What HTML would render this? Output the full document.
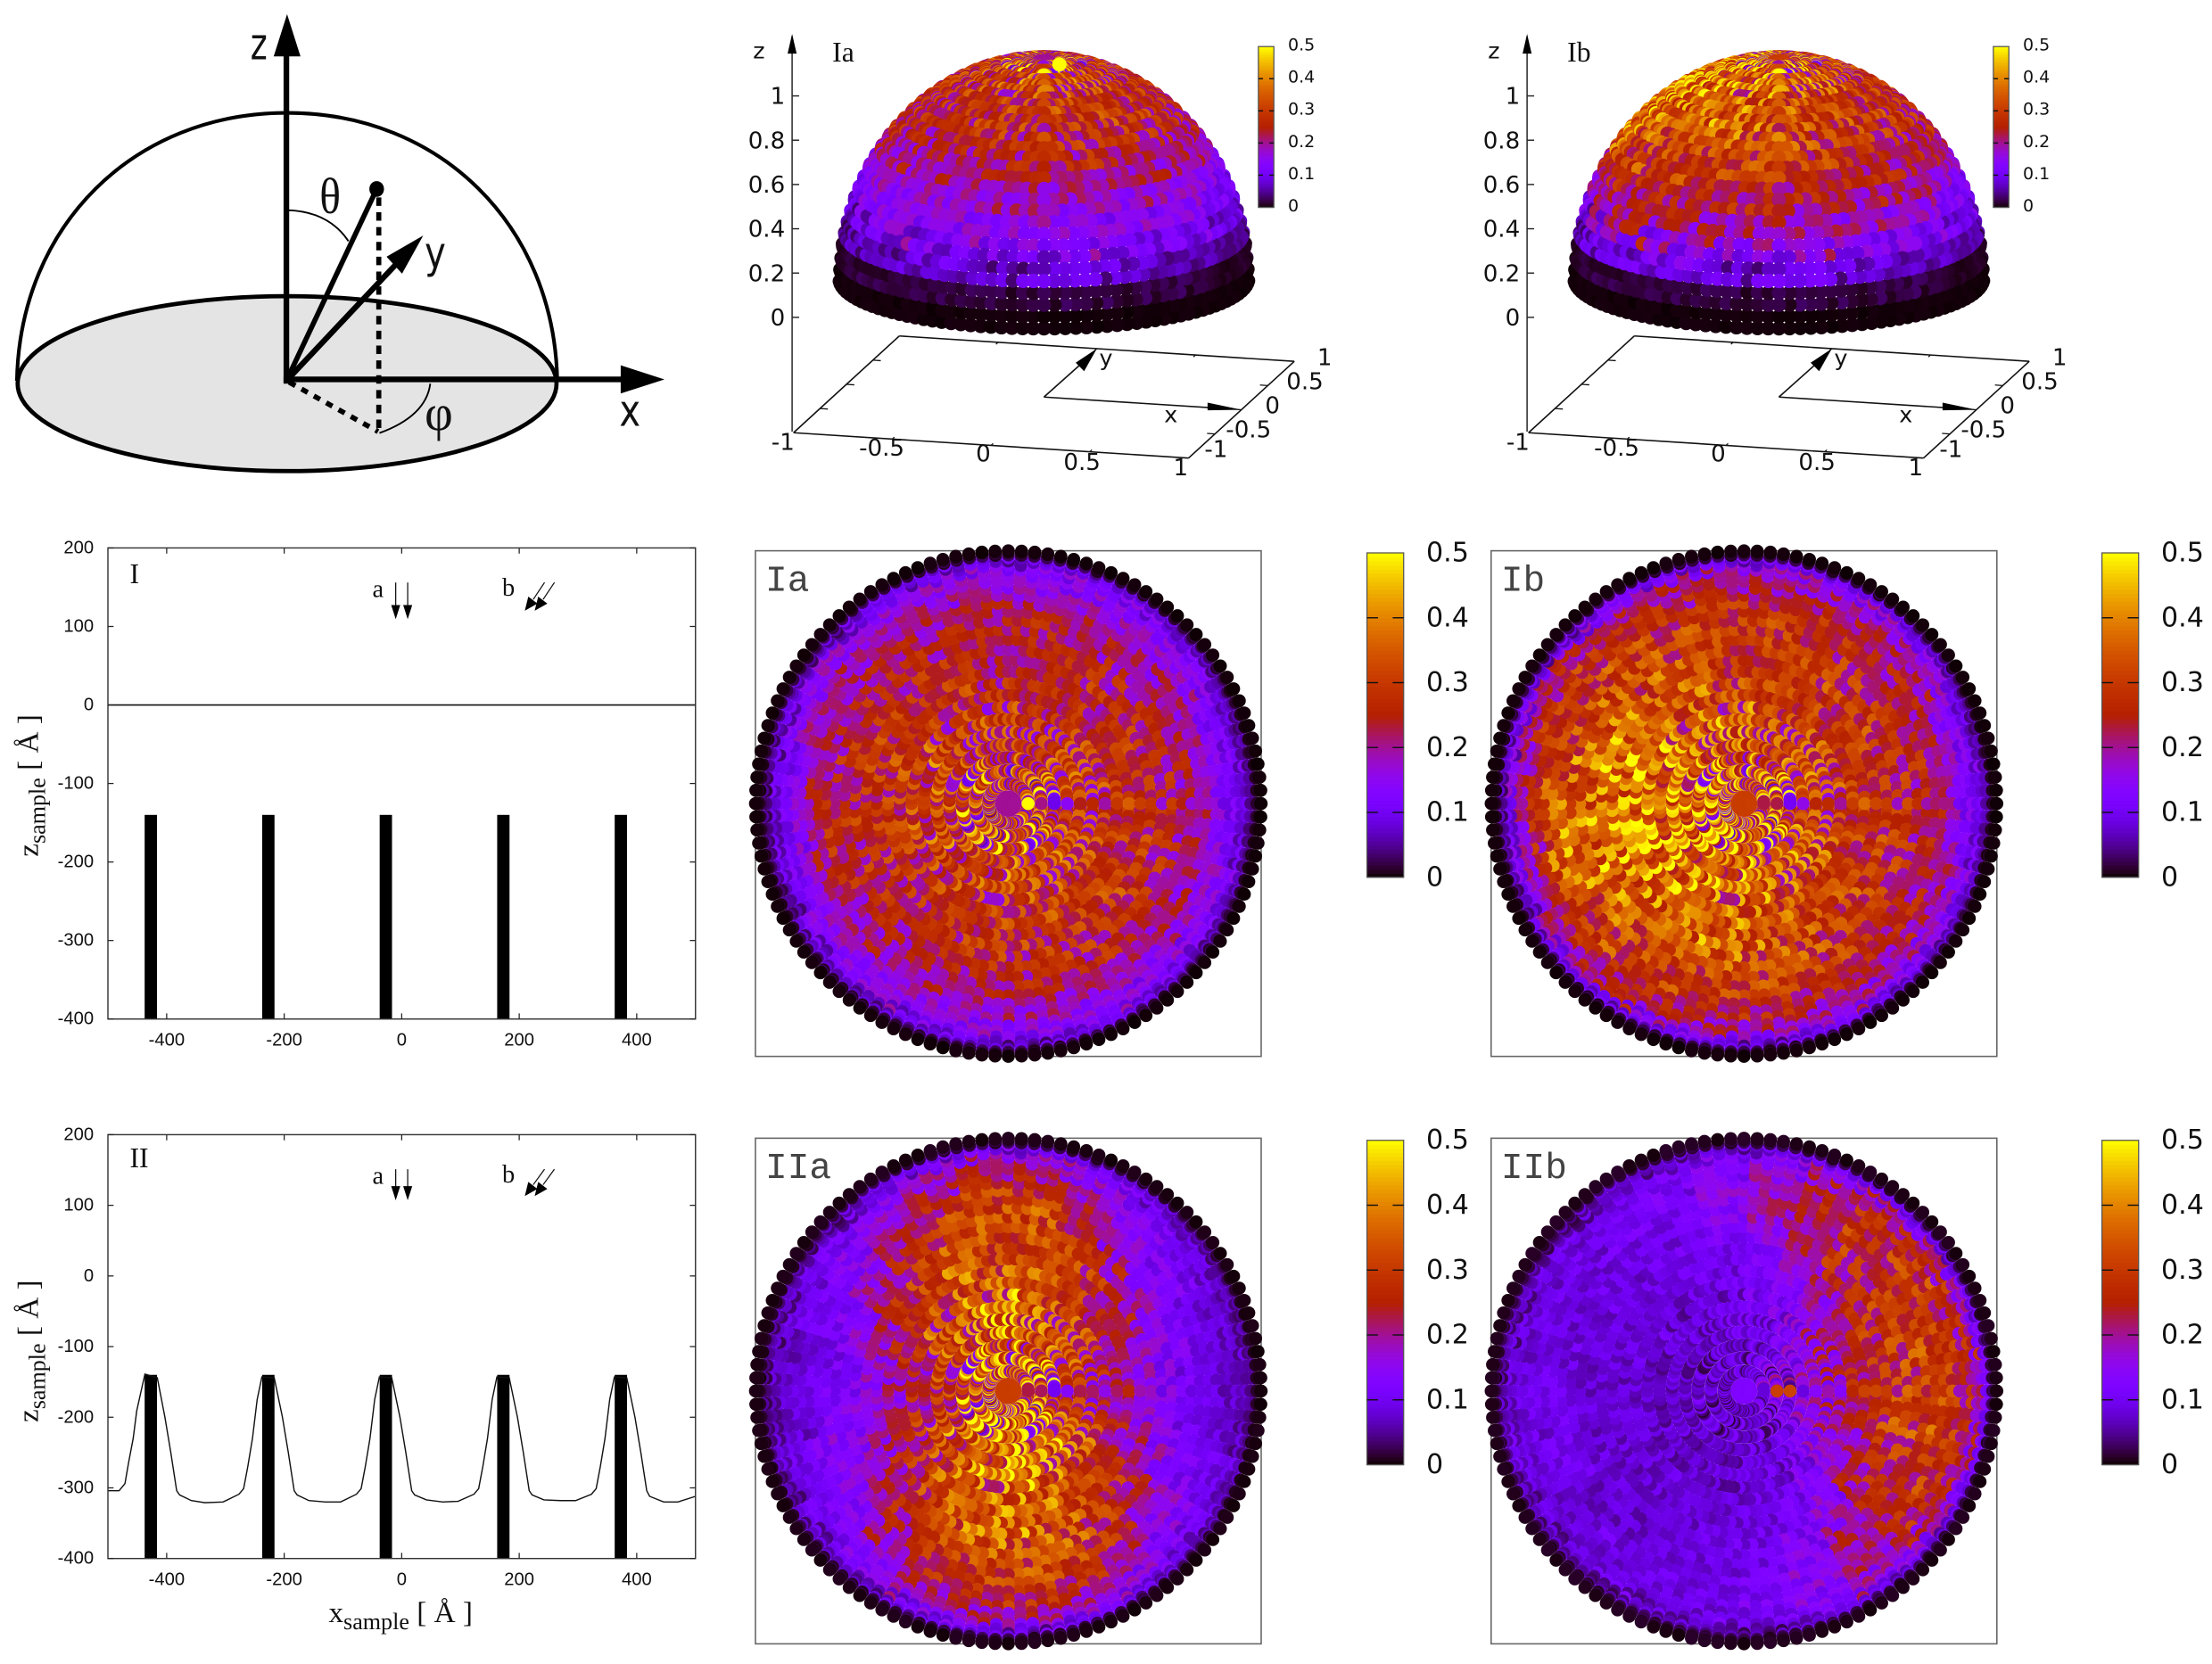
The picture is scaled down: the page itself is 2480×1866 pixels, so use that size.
<!DOCTYPE html>
<html lang="en">
<head>
<meta charset="utf-8">
<title>Hemispherical scattering intensity maps</title>
<style>
html,body{margin:0;padding:0;background:#fff}
svg{display:block}
.tick{font-family:"Liberation Sans",sans-serif;font-size:12.8px;fill:#111}
.dv{font-family:"DejaVu Sans",sans-serif;fill:#111}
.serif{font-family:"Liberation Serif",serif;fill:#111}
.mono{font-family:"Liberation Mono",monospace;font-size:26px;fill:#444}
</style>
</head>
<body>
<svg id="figure" width="2480" height="1866" viewBox="0 0 1568 1179.8">
  <rect x="0" y="0" width="1568" height="1180" fill="#fff"/>
  <g id="schematic" fill="none" stroke="#000" stroke-linecap="butt">
    <ellipse cx="203.5" cy="272" rx="191" ry="62" fill="#e4e4e4" stroke-width="3"/>
    <path d="M12,270 C14,160 95,80 203.5,80 C312,80 393,160 395,270" stroke-width="2.6"/>
    <path d="M204,149 Q233,150 247,171" stroke-width="1.2"/>
    <path d="M305,272 Q302,295 269,307" stroke-width="1.2"/>
    <line x1="203" y1="272" x2="203" y2="36" stroke-width="4"/>
    <line x1="201" y1="269" x2="442" y2="269" stroke-width="4"/>
    <line x1="203" y1="270" x2="282" y2="186" stroke-width="4"/>
    <line x1="203" y1="270" x2="267" y2="134" stroke-width="3.6"/>
    <line x1="268.5" y1="140" x2="268.5" y2="306" stroke-width="3.6" stroke-dasharray="6 4.5"/>
    <line x1="205" y1="271" x2="268" y2="306" stroke-width="3.6" stroke-dasharray="5 5"/>
    <polygon points="203.5,10 194,40 213,40" fill="#000" stroke="none"/>
    <polygon points="471,269 440,259 440,279" fill="#000" stroke="none"/>
    <polygon points="300,167 274,182 285,194" fill="#000" stroke="none"/>
    <ellipse cx="267" cy="134" rx="5.2" ry="5.6" fill="#000" stroke="none"/>
  </g>
  <text class="dv" x="177.5" y="42" font-size="31" textLength="12" lengthAdjust="spacingAndGlyphs">z</text>
  <text class="dv" x="439" y="302" font-size="31" textLength="15" lengthAdjust="spacingAndGlyphs">x</text>
  <text class="dv" x="301" y="190" font-size="31" textLength="15" lengthAdjust="spacingAndGlyphs">y</text>
  <text class="serif" x="226.5" y="151" font-size="36" textLength="15" lengthAdjust="spacingAndGlyphs">θ</text>
  <text class="serif" x="301" y="305" font-size="36" textLength="20" lengthAdjust="spacingAndGlyphs">φ</text>
</svg>
<script>
/* ---------- chart values ---------- */
const profileTicksX = [-400, -200, 0, 200, 400];
const profileTicksZ = [200, 100, 0, -100, -200, -300, -400];
const grooveCenters = [-427, -227, -27, 173, 373];
const grooveWidth = [21];
const grooveTop = [-140];
const surfaceLevel = [0];
const interfaceX = [-500,-481,-471,-465,-457,-451,-443,-437,-416,-403,-393,-383,-378,-358,-335,-304,-277,-269,-262,-254,-246,-238,-217,-203,-193,-183,-178,-158,-130,-104,-77,-69,-62,-54,-46,-38,-17,-3,7,17,22,42,70,96,123,131,138,146,154,162,183,197,207,217,222,242,270,296,323,331,338,346,354,362,383,397,407,417,422,446,470,500];
const interfaceZ = [-304,-304,-294,-265,-230,-191,-161,-139,-144,-200,-250,-304,-310,-318,-321,-320,-309,-301,-270,-230,-175,-143,-144,-200,-250,-304,-310,-318,-320,-320,-309,-301,-270,-230,-175,-143,-144,-200,-250,-304,-310,-317,-320,-319,-309,-301,-270,-230,-175,-143,-144,-200,-250,-304,-310,-317,-318,-318,-309,-301,-270,-230,-175,-143,-144,-200,-250,-304,-312,-320,-320,-312];
const colorTicks = [0, 0.1, 0.2, 0.3, 0.4, 0.5];
const domeTicksZ = [0, 0.2, 0.4, 0.6, 0.8, 1];
const domeTicksXY = [-1, -0.5, 0, 0.5, 1];

/* Intensity x100 per polar cell: 15 rows of 6 degree zenith bins, 24 columns of 15 degree azimuth bins. */
const gridIa = [
[27,27,28,28,27,26,26,27,28,28,27,27,27,27,28,28,28,27,27,27,28,28,27,27],
[28,29,29,28,28,28,27,28,29,29,28,29,29,29,29,30,29,29,29,30,30,29,28,28],
[28,28,28,27,27,27,27,28,28,28,29,29,29,29,29,29,29,30,30,30,29,29,28,28],
[28,27,27,27,26,26,27,27,28,28,29,29,29,28,28,28,28,29,29,30,29,28,28,28],
[27,27,26,26,26,25,26,27,27,27,28,28,28,28,27,27,27,28,28,29,29,28,28,27],
[26,26,25,25,25,25,25,26,26,26,27,27,27,27,27,26,26,27,27,27,28,28,27,26],
[24,24,24,24,24,24,24,25,25,25,26,26,26,25,25,25,25,26,26,26,26,26,25,24],
[21,22,22,22,23,23,23,23,24,24,24,24,24,24,23,23,24,24,24,24,24,23,23,22],
[18,19,19,20,20,21,21,21,21,21,21,21,20,20,20,20,20,21,21,21,20,20,20,19],
[13,14,16,16,17,17,18,18,18,18,18,15,14,15,17,17,17,18,18,17,17,17,16,14],
[11,11,14,14,14,14,15,15,15,15,14,11,10,11,14,14,14,15,15,15,14,14,14,11],
[8,8,11,11,12,12,12,12,12,12,10,8,8,8,10,11,12,12,12,12,12,11,11,8],
[4,5,7,7,8,8,8,8,8,7,6,4,4,4,6,7,8,8,8,8,8,7,6,4],
[1,1,2,2,2,2,2,2,2,2,2,1,1,1,2,2,2,2,2,2,2,2,2,1],
[.3,.3,.3,.3,.3,.3,.3,.3,.3,.3,.3,.3,.3,.3,.3,.3,.3,.3,.3,.3,.3,.3,.3,.3]];
const gridIb = [
[31,31,31,31,31,31,32,32,33,33,33,34,34,34,34,34,33,33,33,32,32,31,31,31],
[31,31,31,31,32,32,32,33,33,34,35,36,36,36,36,35,35,34,33,33,32,32,31,31],
[30,30,30,30,31,31,32,33,34,35,36,37,38,38,37,36,36,35,34,33,32,31,31,30],
[29,29,29,30,30,31,32,33,34,36,37,38,39,39,38,37,36,35,34,33,32,31,30,29],
[28,28,29,29,30,30,31,33,34,36,38,39,40,40,39,37,36,35,34,32,31,30,29,28],
[27,27,28,28,29,30,31,32,33,35,37,38,39,39,38,36,35,34,33,32,30,29,28,27],
[26,26,27,27,28,29,30,31,32,34,35,37,37,37,36,35,33,33,32,31,29,28,27,26],
[24,24,25,26,27,27,28,30,31,32,33,34,35,35,34,32,31,31,30,29,27,26,25,24],
[21,22,23,24,25,25,26,27,28,29,30,31,32,32,30,29,29,28,27,26,25,24,23,22],
[16,17,20,21,22,22,23,24,25,26,27,26,24,24,26,26,25,25,24,23,22,21,20,16],
[12,13,17,18,18,19,19,20,21,22,22,19,17,17,20,22,22,21,20,19,18,17,16,12],
[9,9,13,14,14,15,15,16,16,17,15,12,10,11,15,17,17,16,15,15,14,13,12,9],
[5,5,8,8,9,9,9,9,10,10,8,6,5,5,8,10,10,10,9,9,8,8,7,5],
[1,1,2,2,2,2,2,2,2,3,2,1,1,1,2,2,2,2,2,2,2,2,2,1],
[.3,.3,.3,.3,.3,.3,.3,.3,.3,.3,.3,.3,.3,.3,.3,.3,.3,.3,.3,.3,.3,.3,.3,.3]];
const gridIIa = [
[31,31,32,33,34,35,35,34,33,32,31,31,31,31,32,33,35,35,36,35,34,33,31,31],
[30,31,32,33,34,35,36,35,34,33,31,30,30,31,33,34,36,37,37,36,35,33,31,30],
[26,28,30,32,34,35,36,35,33,31,28,26,26,28,31,33,36,37,38,37,34,32,29,26],
[23,25,28,30,33,35,35,34,32,29,26,23,23,26,29,32,35,36,37,36,33,30,27,23],
[20,21,25,28,32,34,34,33,30,27,22,19,19,22,27,31,34,35,36,34,31,27,23,20],
[16,18,21,26,31,33,34,33,29,24,19,16,16,19,24,29,33,35,35,33,30,25,19,16],
[13,14,17,22,28,32,33,31,26,20,15,13,13,15,20,26,31,33,33,32,28,22,16,13],
[11,12,14,18,25,30,31,29,23,17,13,11,11,13,17,23,29,31,31,30,25,18,14,11],
[9,10,12,15,21,27,28,25,19,14,11,9,9,11,14,19,25,28,29,27,21,15,12,9],
[8,9,10,13,18,24,24,21,16,12,10,8,8,10,12,16,21,25,25,24,18,13,10,8],
[7,8,9,11,15,19,20,17,13,10,9,7,7,9,10,13,17,20,21,19,15,11,9,7],
[6,7,8,9,12,15,15,13,10,8,7,6,6,7,8,10,13,15,16,15,12,9,8,6],
[4,5,6,7,8,9,10,9,7,6,5,4,4,5,6,7,9,10,10,9,8,7,6,4],
[1,1,2,2,2,2,2,2,2,2,1,1,1,1,2,2,2,2,2,2,2,2,1,1],
[.6,.6,.6,.6,.6,.6,.6,.6,.6,.6,.6,.6,.6,.6,.6,.6,.6,.6,.6,.6,.6,.6,.6,.6]];
const gridIIb = [
[11,11,10,10,9,8,8,7,7,7,7,8,8,8,7,7,7,7,7,8,9,9,10,11],
[13,12,11,10,9,9,8,8,7,7,7,7,7,7,7,7,7,7,7,8,9,10,11,13],
[16,15,13,12,10,9,9,8,8,7,7,7,7,7,7,7,7,7,8,8,10,12,14,16],
[20,19,17,14,12,10,9,8,8,8,7,7,7,7,7,7,7,8,8,9,11,14,17,20],
[24,23,21,18,14,11,10,9,8,8,8,8,8,8,8,8,8,8,9,10,13,17,21,24],
[27,26,25,22,17,13,11,9,9,8,8,8,8,8,8,8,8,8,9,11,15,21,25,27],
[29,29,27,25,20,15,12,10,9,9,8,8,8,8,8,8,8,9,10,12,17,24,27,29],
[29,29,28,26,22,17,13,10,9,9,9,9,9,9,8,8,9,9,10,13,19,25,28,29],
[29,29,28,26,23,18,14,11,10,9,9,9,9,9,8,9,9,9,11,14,20,25,28,29],
[27,27,27,25,22,18,13,11,10,9,9,9,9,9,8,9,9,10,11,14,20,24,26,27],
[24,24,24,23,20,15,12,10,9,8,8,8,8,8,8,8,8,9,10,13,17,21,23,24],
[18,18,18,17,15,12,10,8,8,7,7,7,8,8,7,7,8,8,9,11,14,16,17,18],
[10,10,10,9,9,8,7,6,6,5,5,5,6,6,5,5,6,6,6,7,8,9,10,10],
[2,2,2,2,2,2,2,2,2,2,2,2,2,2,2,2,2,2,2,2,2,2,2,2],
[.8,.8,.8,.8,.8,.8,.8,.8,.8,.8,.8,.8,.8,.8,.8,.8,.8,.8,.8,.8,.8,.8,.8,.8]];
/* Colour of the innermost ring, read from each centre blob. */
const centerValues = {Ia: 0.2, Ib: 0.31, IIa: 0.31, IIb: 0.125};
/* Single points that stand out in the picture: [zenith deg, azimuth deg, value]. */
const hotPointsIa = [[4.5, 0, 0.5]];
const hotPointsIIb = [[7.5, 0, 0.31],[10.5, 0, 0.32]];
/* Hand-typed relative point-to-point scatter, stands in for per-point readings at this density. */
const pointScatter = [.12,-.2,.05,.3,-.08,-.3,.18,.02,-.14,.25,-.04,.1,-.26,.16,-.1,.34,-.18,.06,-.02,.22,-.32,.08,.14,-.12,.28,-.22,.0,.2,-.06,-.16,.32,.04,-.28,.1,-.12,.24,.02,-.2,.16,-.36,.06,.26,-.1,.12,-.24,.36,-.04,.08,-.16,.2,-.3,.14,.0,-.08,.3,-.18,.1,.22,-.26,.04,-.14,.18,-.06,.28,-.34,.12,-.02,.24,-.12,.06,-.22,.16,.38,-.1,.02,-.28,.2,-.04,.1,-.16,.26,-.2,.08,.14,-.32,.3,-.08,.04,.18,-.24,.12,-.14,.22,-.02,.06,-.18,.34];

/* ---------- helpers ---------- */
const svg = document.getElementById('figure');
const NS = svg.namespaceURI;
function make(tag, attrs, parent) {
  const e = document.createElementNS(NS, tag);
  for (const k in attrs) e.setAttribute(k, attrs[k]);
  (parent || svg).appendChild(e);
  return e;
}
function group(name) {
  const g = make('g', {});
  
  
  return g;
}
function line(parent, name, x1, y1, x2, y2, stroke, w) {
  const l = make('line', {x1, y1, x2, y2, stroke, 'stroke-width': w}, parent);
  
  
  return l;
}
function label(parent, name, str, x, y, cls, size, anchor) {
  const t = make('text', {x, y, class: cls, 'text-anchor': anchor || 'middle', 'dominant-baseline': 'central'}, parent);
  if (size) t.setAttribute('font-size', size);
  t.textContent = str;
  
  
  return t;
}
/* gnuplot rgbformulae 7,5,15 over a 0..0.5 colour range */
function palette(v) {
  const x = Math.max(0, Math.min(1, v / 0.5));
  const r = Math.sqrt(x), g = x * x * x, b = Math.max(0, Math.sin(2 * Math.PI * x));
  return 'rgb(' + Math.round(r * 255) + ',' + Math.round(g * 255) + ',' + Math.round(b * 255) + ')';
}
const RINGS = 30, SPOKES = 120, STEP = 3;
function cellValue(grid, ring, spoke, key) {
  if (ring === 0) return centerValues[key];
  const th = 1.5 + ring * STEP, ph = spoke * STEP;
  const base = grid[Math.min(14, Math.floor(th / 6))][Math.min(23, Math.floor(ph / 15))] / 100;
  const n = pointScatter.length;
  const s = pointScatter[(ring * 131 + spoke * spoke * 7 + spoke * ring * 3 + spoke * 29) % n];
  const gain = ring < 4 ? 2.2 : (ring < 8 ? 1.3 : (ring >= 22 ? 1.7 : 0.95));
  return Math.max(0, Math.min(0.5, base * (1 + s * gain)));
}

/* ---------- polar disk maps ---------- */
function diskMap(key, grid, hot, left, top, size, cbX) {
  const g = group('polar-map-' + key);
  const f = make('rect', {x: left, y: top, width: size, height: size, fill: 'none', stroke: '#666', 'stroke-width': 1}, g);
  
  
  const cx = left + size / 2, cy = top + size / 2, R = 179.3, rDot = 4.6;
  const sx = v => cx + R * v, sy = v => cy - R * v;
  for (let ring = 0; ring < RINGS; ring++) {
    for (let spoke = SPOKES - 1; spoke >= 0; spoke--) {
      const th = (1.5 + ring * STEP) * Math.PI / 180, ph = spoke * STEP * Math.PI / 180;
      const c = make('circle', {cx: sx(Math.sin(th) * Math.cos(ph)), cy: sy(Math.sin(th) * Math.sin(ph)), r: rDot, fill: palette(cellValue(grid, ring, spoke, key))}, g);
      
      
    }
  }
  hot.forEach(p => {
    const th = p[0] * Math.PI / 180, ph = p[1] * Math.PI / 180;
    const c = make('circle', {cx: sx(Math.sin(th) * Math.cos(ph)), cy: sy(Math.sin(th) * Math.sin(ph)), r: rDot, fill: palette(p[2])}, g);
    
    
  });
  label(g, 'map-title', key, left + 7, top + 22, 'mono', 0, 'start').setAttribute('font-size', 26);
  colorbar(g, cbX, top + 1.5, 26, 230, cbX + 42, 19, 0);
}

/* ---------- colour bar ---------- */
function colorbar(parent, x, y, w, h, labelX, fontSize, labelShift) {
  const g = make('g', {}, parent);
  
  
  const vy = v => y + h - (v / 0.5) * h;
  const bands = 80;
  for (let i = 0; i < bands; i++) {
    const a = i / bands * 0.5, b = (i + 1) / bands * 0.5;
    const r = make('rect', {x, y: vy(b), width: w, height: vy(a) - vy(b) + 0.4, fill: palette((a + b) / 2)}, g);
    
    
  }
  const o = make('rect', {x, y, width: w, height: h, fill: 'none', stroke: '#555', 'stroke-width': 0.8}, g);
  
  
  colorTicks.forEach(v => {
    label(g, 'colorbar-label', String(v), labelX, vy(v) + labelShift, 'dv', fontSize, 'start');
    if (v > 0 && v < 0.5) {
      line(g, 'colorbar-tick', x, vy(v), x + w * 0.3, vy(v), '#111', 0.9);
      line(g, 'colorbar-tick', x + w * 0.7, vy(v), x + w, vy(v), '#111', 0.9);
    }
  });
}

/* ---------- 3D domes ---------- */
function dome(key, grid, hot, ox) {
  const g = group('dome-plot-' + key);
  const proj = (x, y, z) => [ox + 740 + 140 * x + 37.5 * y, 281.5 + 9 * x - 34.3 * y - 157 * (z + 0.51)];
  const floorPt = (x, y) => proj(x, y, -0.51);
  const corners = [floorPt(-1, -1), floorPt(1, -1), floorPt(1, 1), floorPt(-1, 1)];
  corners.forEach((c, i) => {
    const d = corners[(i + 1) % 4];
    line(g, 'floor-edge', c[0], c[1], d[0], d[1], '#111', 1);
  });
  domeTicksXY.slice(1, 4).forEach(v => {
    let a = floorPt(v, -1), b = floorPt(v, -0.96);
    line(g, 'floor-tick', a[0], a[1], b[0], b[1], '#111', 0.8);
    a = floorPt(v, 1); b = floorPt(v, 0.96);
    line(g, 'floor-tick', a[0], a[1], b[0], b[1], '#111', 0.8);
    a = floorPt(-1, v); b = floorPt(-0.96, v);
    line(g, 'floor-tick', a[0], a[1], b[0], b[1], '#111', 0.8);
    a = floorPt(1, v); b = floorPt(0.96, v);
    line(g, 'floor-tick', a[0], a[1], b[0], b[1], '#111', 0.8);
  });
  const zBase = ox + 561.5;
  line(g, 'z-axis-3d', zBase, 306, zBase, 26, '#333', 1);
  const zh = make('polygon', {points: [zBase, 24, zBase - 3.2, 38, zBase + 3.2, 38].join(','), fill: '#000'}, g);
  
  
  const zy = v => 225 - 157 * v;
  domeTicksZ.forEach(v => {
    line(g, 'z-tick', zBase, zy(v), zBase + 5, zy(v), '#222', 0.9);
    label(g, 'z-tick-label', String(v), zBase - 5, zy(v) + 0.7, 'dv', 16.5, 'end');
  });
  label(g, 'z-axis-label', 'z', ox + 538, 36, 'dv', 16);
  label(g, 'dome-title', key, ox + 590, 37, 'serif', 20, 'start');

  const pts = [];
  for (let ring = 0; ring < RINGS; ring++) {
    for (let spoke = 0; spoke < SPOKES; spoke++) {
      const th = (1.5 + ring * STEP) * Math.PI / 180, ph = spoke * STEP * Math.PI / 180;
      pts.push({th, ph, v: cellValue(grid, ring, spoke, key)});
    }
  }
  hot.forEach(p => pts.push({th: p[0] * Math.PI / 180, ph: p[1] * Math.PI / 180, v: p[2], hot: true}));
  const depth = p => {
    const x = Math.sin(p.th) * Math.cos(p.ph), y = Math.sin(p.th) * Math.sin(p.ph), z = Math.cos(p.th);
    return 0.25 * x - 0.937 * y + 0.244 * z;
  };
  const visible = pts.filter(p => depth(p) > 0.04).sort((a, b) => depth(a) - depth(b) + (a.hot ? 1 : 0) - (b.hot ? 1 : 0));
  visible.forEach(p => {
    const s = proj(Math.sin(p.th) * Math.cos(p.ph), Math.sin(p.th) * Math.sin(p.ph), Math.cos(p.th));
    const c = make('circle', {cx: s[0], cy: s[1], r: 5.1, fill: palette(p.v)}, g);
    
    
  });

  /* inner x / y arrows */
  const o = floorPt(0, 0), ex = floorPt(1, 0), ey = floorPt(0, 1);
  line(g, 'x-arrow-3d', o[0], o[1], ex[0] - 12, ex[1] - 0.8, '#111', 1);
  line(g, 'y-arrow-3d', o[0], o[1], ey[0] - 8, ey[1] + 8, '#111', 1);
  const hx = make('polygon', {points: [ex[0], ex[1], ex[0] - 24, ex[1] - 5, ex[0] - 24, ex[1] + 0.4].join(',') , fill: '#000'}, g);
  
  
  const hy = make('polygon', {points: [ey[0], ey[1], ey[0] - 15, ey[1] + 10, ey[0] - 9, ey[1] + 16].join(','), fill: '#000'}, g);
  
  
  label(g, 'x-label-3d', 'x', ox + 830, 294, 'dv', 16);
  label(g, 'y-label-3d', 'y', ox + 784, 254, 'dv', 16);

  const xLabelPos = [[555, 314], [625, 318], [697, 322], [767, 328], [837, 332]];
  const yLabelPos = [[862, 319], [885, 305], [902, 288], [925, 271], [939, 254]];
  domeTicksXY.forEach((v, i) => {
    label(g, 'x-tick-label-3d', String(v), ox + xLabelPos[i][0], xLabelPos[i][1], 'dv', 16.5);
    label(g, 'y-tick-label-3d', String(v), ox + yLabelPos[i][0], yLabelPos[i][1], 'dv', 16.5);
  });
  colorbar(g, ox + 892, 33, 11, 114, ox + 913, 12, -1);
}

/* ---------- 2D sample profiles ---------- */
function profile(key, top, bottom, showCurve, showZero, titleY, roman, romanX, romanY, arrowY, lenA, lenB, xLabY) {
  const g = group('profile-plot-' + key);
  const L = 76.5, Rt = 493;
  const sx = v => 284.75 + v * (Rt - L) / 1000;
  const sy = v => top + (200 - v) * (bottom - top) / 600;
  grooveCenters.forEach(c => {
    const b = make('rect', {x: sx(c - grooveWidth[0] / 2), y: sy(grooveTop[0]), width: sx(grooveWidth[0]) - sx(0), height: sy(-400) - sy(grooveTop[0]), fill: '#000'}, g);
    
    
  });
  if (showZero) line(g, 'surface-line', L, sy(surfaceLevel[0]), Rt, sy(surfaceLevel[0]), '#111', 1);
  if (showCurve) {
    const d = interfaceX.map((x, i) => (i ? 'L' : 'M') + sx(x).toFixed(2) + ',' + sy(interfaceZ[i]).toFixed(2)).join(' ');
    const p = make('path', {d, fill: 'none', stroke: '#111', 'stroke-width': 0.9}, g);
    
    
  }
  const fr = make('rect', {x: L, y: top, width: Rt - L, height: bottom - top, fill: 'none', stroke: '#333', 'stroke-width': 0.9}, g);
  
  
  profileTicksX.forEach(v => {
    line(g, 'x-tick', sx(v), bottom, sx(v), bottom - 4, '#222', 0.8);
    line(g, 'x-tick', sx(v), top, sx(v), top + 4, '#222', 0.8);
    label(g, 'x-tick-label', String(v), sx(v), bottom + 15, 'tick');
  });
  profileTicksZ.forEach(v => {
    line(g, 'z-tick', L, sy(v), L + 4, sy(v), '#222', 0.8);
    line(g, 'z-tick', Rt, sy(v), Rt - 4, sy(v), '#222', 0.8);
    label(g, 'z-tick-label', String(v), L - 10, sy(v), 'tick', 0, 'end');
  });
  label(g, 'panel-label', roman, romanX, romanY, 'serif', 20, 'start');
  label(g, 'beam-a-label', 'a', 268, arrowY + 5, 'serif', 18);
  label(g, 'beam-b-label', 'b', 360.5, arrowY + 4, 'serif', 18);
  [280.5, 289].forEach(x => {
    line(g, 'beam-a-arrow', x, arrowY, x, arrowY + lenA - 6, '#111', 0.8);
    const h = make('polygon', {points: [x, arrowY + lenA, x - 3.2, arrowY + lenA - 10, x + 3.2, arrowY + lenA - 10].join(','), fill: '#000'}, g);
    
    
  });
  [386, 393].forEach(x => {
    const tx = x - 14, ty = arrowY + lenB;
    line(g, 'beam-b-arrow', x, arrowY, tx + 6, ty - 8, '#111', 0.8);
    const h = make('polygon', {points: [tx, ty, tx + 2.5, ty - 10, tx + 9, ty - 5].join(','), fill: '#000'}, g);
    
    
  });
  const t = make('text', {transform: 'translate(27,' + titleY + ') rotate(-90)', class: 'serif', 'text-anchor': 'middle', 'font-size': 21}, g);
  
  
  t.innerHTML = 'z<tspan font-size="16.5" dy="5">sample</tspan><tspan dy="-5"> [ Å ]</tspan>';
  if (xLabY) {
    const xt = make('text', {x: 284, y: xLabY, class: 'serif', 'text-anchor': 'middle', 'font-size': 21}, g);
    
    
    xt.innerHTML = 'x<tspan font-size="16.5" dy="5">sample</tspan><tspan dy="-5"> [ Å ]</tspan>';
  }
}

/* ---------- build ---------- */
profile('I', 388.5, 722.5, false, true, 557, 'I', 92, 407, 413, 26, 20, 0);
profile('II', 804.5, 1105, true, false, 958, 'II', 92, 821, 829, 22, 19, 1150);
dome('Ia', gridIa, hotPointsIa, 0);
dome('Ib', gridIb, [], 521);
diskMap('Ia', gridIa, hotPointsIa, 535.5, 390.5, 358.5, 969);
diskMap('Ib', gridIb, [], 1057, 390.5, 358.5, 1490);
diskMap('IIa', gridIIa, [], 535.5, 807, 358.5, 969);
diskMap('IIb', gridIIb, hotPointsIIb, 1057, 807, 358.5, 1490);
</script>
</body>
</html>
